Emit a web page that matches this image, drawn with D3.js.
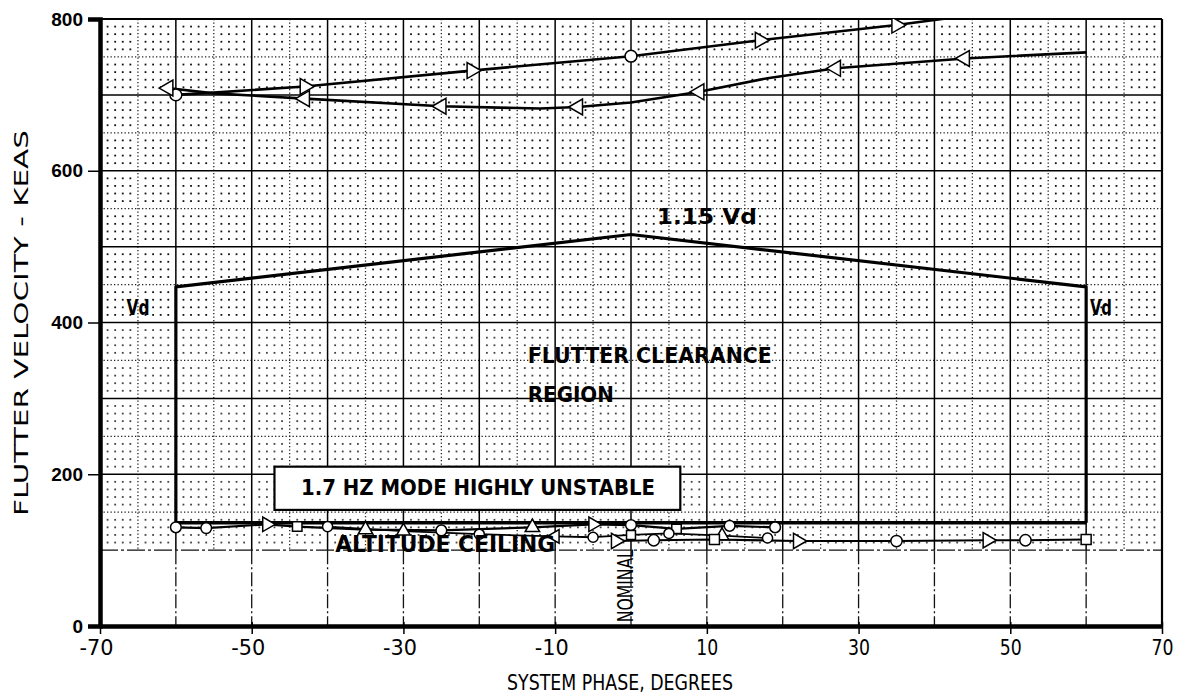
<!DOCTYPE html>
<html>
<head>
<meta charset="utf-8">
<script src="https://cdn.jsdelivr.net/npm/d3@7/dist/d3.min.js"></script>
<style>
  html, body { margin: 0; padding: 0; background: #fff; }
  svg { display: block; }
  .cond { font-family: "DejaVu Sans", "Liberation Sans", sans-serif; font-stretch: condensed; }
</style>
</head>
<body>
<svg id="chart" width="1185" height="696"></svg>
<script>
// ---------- data ----------
const xTicks = [-70, -50, -30, -10, 10, 30, 50, 70];
const yTicks = [0, 200, 400, 600, 800];

// upper flutter curve (right-pointing markers)
const upperAPhase = [-60, -55, -43, -21, 0, 17, 35, 41, 45];
const upperAVel   = [700, 703, 711, 732, 751, 772, 792, 800, 805];
const upperAMarkPhase = [-60, -43, -21, 0, 17, 35];
const upperAMarkVel   = [700, 711, 732, 751, 772, 792];

// second flutter curve (left-pointing markers)
const upperBPhase = [-62, -55, -43, -25, -12, -7, 0, 9, 18, 27, 44, 60];
const upperBVel   = [710, 702, 695, 685, 682, 684, 690, 704, 722, 735, 748, 756];
const upperBMarkPhase = [-61, -43, -25, -7, 9, 27, 44];
const upperBMarkVel   = [709, 695, 685, 684, 704, 735, 748];

// Vd envelope and altitude ceiling
const envPhase = [-60, -60, 0, 60, 60];
const envVel   = [136, 447, 516, 447, 136];
const ceilPhase = [-60, 60];
const ceilVel   = [136, 136];

// low-speed (1.7 Hz mode) curves
const lowAPhase = [-60, -56, -48, -44, -35, -25, -13, -5, 0, 6, 13, 19];
const lowAVel   = [130, 129, 134, 131, 127, 126, 130, 134, 133, 128, 132, 130];
const lowBPhase = [-40, -30, -20, -10, -5, 0, 5, 12, 18];
const lowBVel   = [131, 125, 121, 118, 117, 120, 122, 119, 116];
const lowCPhase = [-2, 3, 11, 22, 35, 47, 52, 60];
const lowCVel   = [112, 113, 114, 112, 112, 113, 113, 114];

// ---------- setup ----------
const svg = d3.select("#chart");
svg.append("rect").attr("width", 1185).attr("height", 696).attr("fill", "#fff");

const x = d3.scaleLinear().domain([-70, 70]).range([100, 1162]);
const y = d3.scaleLinear().domain([0, 800]).range([626, 19]);

const defs = svg.append("defs");
defs.append("clipPath").attr("id", "plotclip")
  .append("rect").attr("x", x(-70)).attr("y", y(800)).attr("width", x(70) - x(-70)).attr("height", y(0) - y(800));

const grid = svg.append("g");

// dot grid (1 deg x 10 KEAS) in region 100..800
const dots = [];
for (let p = -70; p <= 70; p += 1) {
  if (p % 5 === 0) continue;
  for (let v = 100; v <= 800; v += 10) {
    if (v % 50 === 0) continue;
    dots.push([p, v]);
  }
}
grid.append("g").selectAll("rect").data(dots).join("rect")
  .attr("x", d => x(d[0]) - 0.9).attr("y", d => y(d[1]) - 0.9)
  .attr("width", 1.8).attr("height", 1.8)
  .attr("fill", d => d[1] < 400 ? "#444" : "#111");

// dotted lines at 5-degree and 50-KEAS
const half5 = d3.range(-65, 70, 10);
grid.append("g").selectAll("line").data(half5).join("line")
  .attr("x1", d => x(d)).attr("x2", d => x(d))
  .attr("y1", y(800)).attr("y2", y(100))
  .attr("stroke", "#222").attr("stroke-width", 1.3).attr("stroke-dasharray", "1.3 2.2");
const half50 = d3.range(150, 800, 100);
grid.append("g").selectAll("line").data(half50).join("line")
  .attr("x1", x(-70)).attr("x2", x(70))
  .attr("y1", d => y(d)).attr("y2", d => y(d))
  .attr("stroke", "#222").attr("stroke-width", 1.3).attr("stroke-dasharray", "1.3 2.2");

// solid major grid
const major10 = d3.range(-60, 70, 10);
grid.append("g").selectAll("line").data(major10).join("line")
  .attr("x1", d => x(d)).attr("x2", d => x(d))
  .attr("y1", y(800)).attr("y2", y(100))
  .attr("stroke", "#000").attr("stroke-width", 1.5);
grid.append("g").selectAll("line").data(major10).join("line")
  .attr("x1", d => x(d)).attr("x2", d => x(d))
  .attr("y1", y(100)).attr("y2", y(0))
  .attr("stroke", "#111").attr("stroke-width", 1.3).attr("stroke-dasharray", "14 3 2 3");
const major100 = d3.range(200, 800, 100);
grid.append("g").selectAll("line").data(major100).join("line")
  .attr("x1", x(-70)).attr("x2", x(70))
  .attr("y1", d => y(d)).attr("y2", d => y(d))
  .attr("stroke", "#000").attr("stroke-width", 1.5);
grid.append("line")
  .attr("x1", x(-70)).attr("x2", x(70)).attr("y1", y(100)).attr("y2", y(100))
  .attr("stroke", "#111").attr("stroke-width", 1.4).attr("stroke-dasharray", "18 3 3 3");

// frame
svg.append("line").attr("x1", x(-70)).attr("x2", x(70)).attr("y1", y(800)).attr("y2", y(800))
  .attr("stroke", "#000").attr("stroke-width", 2.2);
svg.append("line").attr("x1", x(70)).attr("x2", x(70)).attr("y1", y(800)).attr("y2", y(0))
  .attr("stroke", "#000").attr("stroke-width", 2.2);

// axes
const yAxis = d3.axisLeft(y).tickValues(yTicks).tickSize(12).tickFormat(d3.format("d"));
const gy = svg.append("g").attr("transform", `translate(${x(-70)},0)`).call(yAxis);
gy.select(".domain").attr("stroke-width", 4.5);
gy.selectAll(".tick line").attr("stroke-width", 1.5);
gy.selectAll(".tick text").attr("font-family", "'Liberation Sans', Arial, sans-serif")
  .attr("font-weight", "bold").attr("font-size", 19).attr("fill", "#000").attr("dx", -2);

const xAxis = d3.axisBottom(x).tickValues(xTicks).tickSize(8).tickSizeOuter(0)
  .tickFormat(d => d < 0 ? "-" + Math.abs(d) : String(d));
const gx = svg.append("g").attr("transform", `translate(0,${y(0)})`).call(xAxis);
gx.select(".domain").attr("stroke-width", 4.5);
gx.selectAll(".tick line").attr("stroke-width", 1.5).attr("y1", -4);
gx.selectAll(".tick text").attr("class", "cond").attr("font-size", 21).attr("fill", "#000")
  .attr("dy", "0.85em").attr("dx", d => d < 0 ? -4 : 0)
  .attr("textLength", d => d < 0 ? 34 : 22).attr("lengthAdjust", "spacingAndGlyphs");

// axis titles
svg.append("text").attr("class", "cond")
  .attr("x", 620).attr("y", 690).attr("text-anchor", "middle")
  .attr("font-size", 21).attr("textLength", 226).attr("lengthAdjust", "spacingAndGlyphs")
  .text("SYSTEM PHASE, DEGREES");
svg.append("text").attr("class", "cond")
  .attr("transform", "translate(28,323) rotate(-90)").attr("text-anchor", "middle")
  .attr("font-size", 20).attr("textLength", 386).attr("lengthAdjust", "spacingAndGlyphs")
  .text("FLUTTER VELOCITY - KEAS");

// ---------- marks ----------
const plot = svg.append("g").attr("clip-path", "url(#plotclip)");
const line = d3.line().x(d => x(d[0])).y(d => y(d[1]));
const zipPts = (ph, v) => ph.map((p, i) => [p, v[i]]);

function drawLine(ph, v, w) {
  plot.append("path").datum(zipPts(ph, v)).attr("d", line)
    .attr("fill", "none").attr("stroke", "#000").attr("stroke-width", w)
    .attr("stroke-linejoin", "round");
}
function drawMarkers(ph, v, shapes, size) {
  const pts = zipPts(ph, v);
  plot.append("g").selectAll("path").data(pts).join("path")
    .attr("transform", (d, i) => {
      const s = shapes[i % shapes.length];
      const rot = s === "R" ? 90 : s === "L" ? -90 : 0;
      return `translate(${x(d[0])},${y(d[1])}) rotate(${rot})`;
    })
    .attr("d", (d, i) => {
      const s = shapes[i % shapes.length];
      const t = s === "C" ? d3.symbolCircle : s === "S" ? d3.symbolSquare : d3.symbolTriangle;
      return d3.symbol().type(t).size(size)();
    })
    .attr("fill", "#fff").attr("stroke", "#000").attr("stroke-width", 1.5);
}

drawLine(envPhase, envVel, 3.2);
drawLine(ceilPhase, ceilVel, 3.4);

drawLine(upperAPhase, upperAVel, 2.6);
drawLine(upperBPhase, upperBVel, 2.6);
drawMarkers(upperAMarkPhase, upperAMarkVel, ["C", "R", "R", "C", "R", "R"], 110);
drawMarkers(upperBMarkPhase, upperBMarkVel, ["L"], 110);

drawLine(lowAPhase, lowAVel, 2.2);
drawLine(lowBPhase, lowBVel, 1.8);
drawLine(lowCPhase, lowCVel, 2.2);
drawMarkers(lowAPhase, lowAVel, ["C", "C", "R", "S", "U", "C", "U", "R", "C", "S", "C", "C"], 90);
drawMarkers(lowBPhase, lowBVel, ["C", "U", "C", "L", "C", "S", "C", "U", "C"], 80);
drawMarkers(lowCPhase, lowCVel, ["R", "C", "S", "R", "C", "R", "C", "S"], 100);

// 1.7 Hz box (drawn before labels)
svg.append("rect")
  .attr("x", x(-47)).attr("y", y(210)).attr("width", x(6.5) - x(-47)).attr("height", y(153) - y(210))
  .attr("fill", "#fff").attr("stroke", "#000").attr("stroke-width", 2.2);

// ---------- annotations ----------
const ann = svg.append("g").attr("class", "cond").attr("font-weight", "bold").attr("fill", "#000");
function label(txt, px, py, size, len) {
  ann.append("text").attr("x", px).attr("y", py).attr("font-size", size)
    .attr("textLength", len).attr("lengthAdjust", "spacingAndGlyphs").text(txt);
}
label("1.15 Vd", x(3.4), y(530), 22, 100);
label("Vd", x(-66.5), y(410), 22, 23);
label("Vd", x(60.5), y(410), 22, 22);
label("FLUTTER CLEARANCE", x(-13.6), y(346), 22, 244);
label("REGION", x(-13.6), y(295), 22, 86);
label("ALTITUDE CEILING", x(-39), y(97), 23, 220);
label("1.7 HZ MODE HIGHLY UNSTABLE", x(-43.5), y(172), 22, 354);

// NOMINAL vertical
ann.append("text").attr("transform", `translate(${x(0.3)},${y(5)}) rotate(-90)`)
  .attr("font-size", 22).attr("font-weight", "normal").attr("textLength", 73).attr("lengthAdjust", "spacingAndGlyphs")
  .text("NOMINAL");
</script>
</body>
</html>
